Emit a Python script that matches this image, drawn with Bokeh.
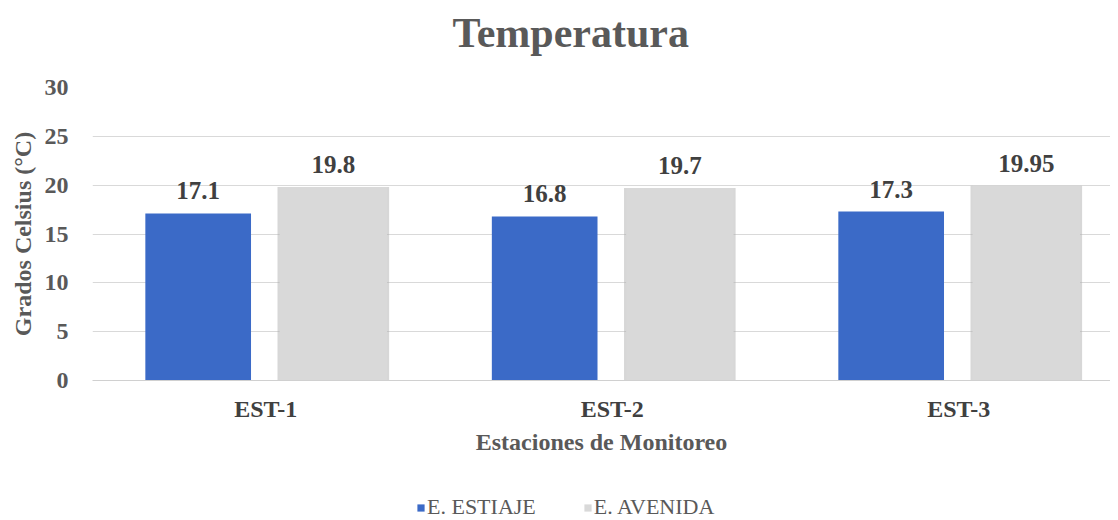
from bokeh.plotting import figure
from bokeh.layouts import column
from bokeh.models import ColumnDataSource, Range1d, Legend, LegendItem, Title
from bokeh.transform import dodge
from bokeh.core.properties import value
from bokeh.embed import file_html
from bokeh.resources import INLINE

# ---- data ----
stations = ["EST-1", "EST-2", "EST-3"]
estiaje = [17.1, 16.8, 17.3]
avenida = [19.8, 19.7, 19.95]
series_names = ["E. ESTIAJE", "E. AVENIDA"]
y_ticks = [0, 5, 10, 15, 20, 25, 30]
chart_title = "Temperatura"

FONT = "Liberation Serif"
BLUE = "#3b6ac7"
GRAY = "#d9d9d9"
pos = list(range(len(stations)))
src = ColumnDataSource(dict(
    x=pos, est=estiaje, ave=avenida,
    est_lbl=[f"{v:g}" for v in estiaje],
    ave_lbl=[f"{v:g}" for v in avenida],
))

# ---- title strip ----
tt = figure(width=1110, height=62, output_backend="svg", toolbar_location=None,
            x_axis_type=None, y_axis_type=None, min_border=0,
            x_range=Range1d(0, 1), y_range=Range1d(0, 1), title_location=None)
tt.outline_line_color = None
tt.grid.visible = False
tt.add_layout(Title(text=chart_title, align="left", offset=360,
                    text_font=FONT, text_font_size="42px",
                    text_font_style="bold", text_color="#595959",
                    standoff=14), "above")

# ---- main chart ----
p = figure(width=1110, height=408,
           x_range=Range1d(-0.5, 2.438), y_range=Range1d(0, 30),
           output_backend="svg", toolbar_location=None, title_location=None,
           min_border_left=92, min_border_right=0,
           min_border_top=25, min_border_bottom=90)

p.outline_line_color = None
p.background_fill_color = "white"
p.border_fill_color = "white"

# y axis
p.yaxis.ticker = y_ticks
p.yaxis.axis_line_color = None
p.yaxis.major_tick_line_color = None
p.yaxis.minor_tick_line_color = None
p.yaxis.major_label_text_font = FONT
p.yaxis.major_label_text_font_style = "bold"
p.yaxis.major_label_text_font_size = "24px"
p.yaxis.major_label_text_color = "#595959"
p.yaxis.major_label_standoff = 18
p.yaxis.axis_label = "Grados Celsius (°C)"
p.yaxis.axis_label_text_font = FONT
p.yaxis.axis_label_text_font_style = "bold"
p.yaxis.axis_label_text_font_size = "24px"
p.yaxis.axis_label_text_color = "#595959"
p.yaxis.axis_label_standoff = 6

# x axis
p.xaxis.ticker = pos
p.xaxis.major_label_overrides = {i: s for i, s in zip(pos, stations)}
p.xaxis.axis_line_color = "#d0d0d0"
p.xaxis.major_tick_line_color = None
p.xaxis.minor_tick_line_color = None
p.xaxis.major_label_text_font = FONT
p.xaxis.major_label_text_font_style = "bold"
p.xaxis.major_label_text_font_size = "24px"
p.xaxis.major_label_text_color = "#404040"
p.xaxis.major_label_standoff = 9
p.xaxis.axis_label = "Estaciones de Monitoreo"
p.xaxis.axis_label_text_font = FONT
p.xaxis.axis_label_text_font_style = "bold"
p.xaxis.axis_label_text_font_size = "24px"
p.xaxis.axis_label_text_color = "#595959"
p.xaxis.axis_label_standoff = 4

p.xgrid.grid_line_color = None
p.ygrid.grid_line_color = "#d9d9d9"
p.ygrid.ticker = y_ticks

# bars
p.vbar(x=dodge("x", -0.195, range=p.x_range), top="est", width=0.305,
       source=src, fill_color=BLUE, line_color=None)
p.vbar(x=dodge("x", 0.195, range=p.x_range), top="ave", width=0.322,
       source=src, fill_color="#b0b0b0", fill_alpha=0.5, line_color=None)
p.vbar(x=dodge("x", 0.195, range=p.x_range), top="ave", width=0.31,
       source=src, fill_color=GRAY, line_color=None)

# data labels
for off, col in ((-0.195, "est"), (0.195, "ave")):
    p.text(x=dodge("x", off, range=p.x_range), y=col, text=col + "_lbl",
           source=src, text_align="center", text_baseline="bottom",
           y_offset=-14, text_font=value(FONT), text_font_style="bold",
           text_font_size="25px", text_color="#404040")

# ---- legend strip (zero-height proxies, only their colours are shown) ----
lg = figure(width=1110, height=50, output_backend="svg", toolbar_location=None,
            x_axis_type=None, y_axis_type=None, min_border=0,
            x_range=Range1d(10, 11), y_range=Range1d(100, 101),
            title_location=None)
lg.outline_line_color = None
lg.grid.visible = False
r1 = lg.vbar(x="x", top="est", bottom="est", width=0.3, source=src,
             fill_color=BLUE, line_color=None)
r2 = lg.vbar(x="x", top="ave", bottom="ave", width=0.3, source=src,
             fill_color=GRAY, line_color=None)
legend = Legend(items=[LegendItem(label=series_names[0], renderers=[r1]),
                       LegendItem(label=series_names[1], renderers=[r2])],
                orientation="horizontal", location=(324, 0),
                border_line_color=None, background_fill_alpha=0,
                label_text_font=FONT, label_text_font_size="22px",
                label_text_color="#595959", glyph_width=9, glyph_height=9,
                spacing=47, padding=0, margin=0, label_standoff=2)
lg.add_layout(legend, "center")

layout = column(tt, p, lg, spacing=0)
open("out.html", "w").write(file_html(layout, INLINE))
